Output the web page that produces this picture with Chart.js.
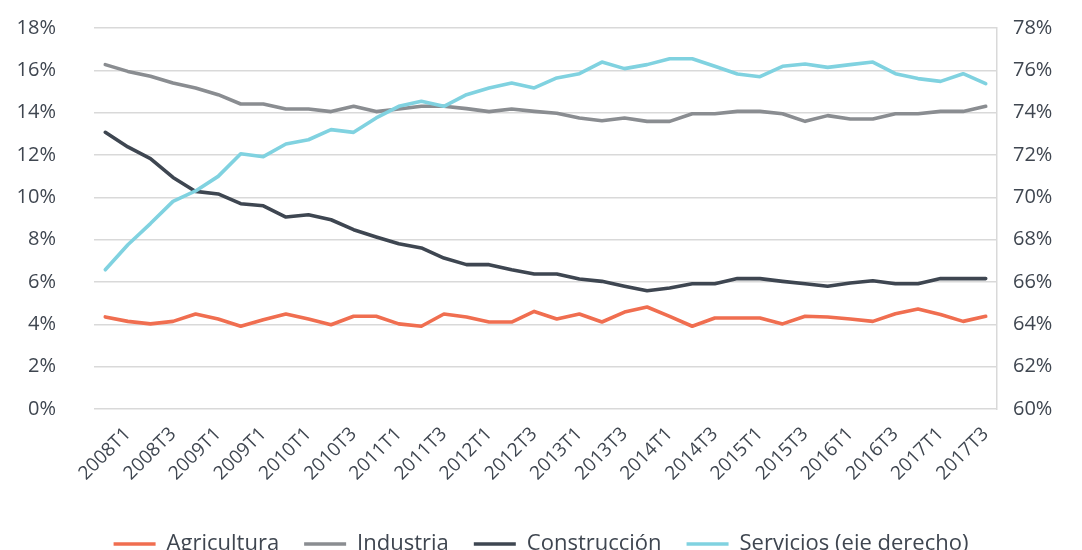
<!DOCTYPE html>
<html>
<head>
<meta charset="utf-8">
<script src="https://cdn.jsdelivr.net/npm/chart.js@4.4.1/dist/chart.umd.min.js"></script>
<style>
  html, body { margin: 0; padding: 0; background: #fff; overflow: hidden; }
  canvas { display: block; margin-top: -22px; }
</style>
</head>
<body>
<canvas id="chart" width="1082" height="587"></canvas>
<script>
// quarters 2007T4 .. 2017T3 (labels as printed in the source, incl. its "2009T1" twice)
const quarters = [
  '2007T4', '2008T1', '2008T2', '2008T3', '2008T4', '2009T1', '2009T2', '2009T1',
  '2009T4', '2010T1', '2010T2', '2010T3', '2010T4', '2011T1', '2011T2', '2011T3',
  '2011T4', '2012T1', '2012T2', '2012T3', '2012T4', '2013T1', '2013T2', '2013T3',
  '2013T4', '2014T1', '2014T2', '2014T3', '2014T4', '2015T1', '2015T2', '2015T3',
  '2015T4', '2016T1', '2016T2', '2016T3', '2016T4', '2017T1', '2017T2', '2017T3'
];

const agricultura = [
  4.35, 4.14, 4.02, 4.14, 4.49, 4.25, 3.91, 4.22,
  4.49, 4.25, 3.98, 4.38, 4.38, 4.02, 3.91, 4.49,
  4.35, 4.11, 4.11, 4.61, 4.25, 4.49, 4.11, 4.58,
  4.82, 4.38, 3.91, 4.30, 4.30, 4.30, 4.02, 4.38,
  4.35, 4.25, 4.14, 4.50, 4.72, 4.46, 4.14, 4.38
];
const industria = [
  16.27, 15.95, 15.72, 15.40, 15.17, 14.85, 14.41, 14.41,
  14.17, 14.17, 14.05, 14.30, 14.05, 14.17, 14.30, 14.30,
  14.19, 14.05, 14.17, 14.06, 13.97, 13.75, 13.62, 13.75,
  13.59, 13.59, 13.95, 13.95, 14.06, 14.06, 13.95, 13.59,
  13.86, 13.70, 13.70, 13.95, 13.95, 14.06, 14.06, 14.30
];
const construccion = [
  13.07, 12.38, 11.83, 10.94, 10.28, 10.16, 9.70, 9.60,
  9.07, 9.18, 8.94, 8.47, 8.13, 7.81, 7.61, 7.13,
  6.82, 6.82, 6.58, 6.38, 6.38, 6.14, 6.03, 5.80,
  5.59, 5.72, 5.92, 5.92, 6.16, 6.16, 6.03, 5.92,
  5.80, 5.95, 6.06, 5.92, 5.92, 6.16, 6.16, 6.16
];
// right axis
const servicios = [
  66.58, 67.76, 68.76, 69.81, 70.30, 70.99, 72.06, 71.92,
  72.52, 72.72, 73.20, 73.07, 73.75, 74.30, 74.54, 74.30,
  74.85, 75.17, 75.40, 75.17, 75.64, 75.84, 76.39, 76.08,
  76.27, 76.55, 76.55, 76.19, 75.83, 75.70, 76.19, 76.30,
  76.14, 76.27, 76.39, 75.84, 75.61, 75.48, 75.84, 75.37
];

const leftTicks = [0, 18, 2];   // min, max, step
const rightTicks = [60, 78, 2];

const textColor = '#3f4650';
const gridColor = '#d9d9d9';
const font = 'Open Sans';

function line(label, data, color, axis, order) {
  return {
    label, data, yAxisID: axis, order,
    borderColor: color, backgroundColor: color,
    borderWidth: 3.6, borderCapStyle: 'round', borderJoinStyle: 'round',
    pointRadius: 0, tension: 0, fill: false
  };
}

new Chart(document.getElementById('chart'), {
  type: 'line',
  data: {
    labels: quarters,
    datasets: [
      line('Agricultura', agricultura, '#f06e50', 'y', 4),
      line('Industria', industria, '#8a8d91', 'y', 3),
      line('Construcción', construccion, '#3e4651', 'y', 2),
      line('Servicios (eje derecho)', servicios, '#80d2e0', 'y1', 1)
    ]
  },
  options: {
    responsive: false,
    animation: false,
    devicePixelRatio: 1,
    layout: { padding: { top: 4, left: 0, right: 0, bottom: 0 } },
    plugins: {
      tooltip: { enabled: false },
      legend: {
        position: 'bottom',
        labels: {
          color: textColor,
          font: { family: font, size: 22 },
          usePointStyle: true,
          pointStyle: 'line',
          pointStyleWidth: 42,
          boxHeight: 4,
          padding: 25,
          sort: (a, b) => a.datasetIndex - b.datasetIndex
        }
      }
    },
    scales: {
      x: {
        offset: true,
        grid: { display: false, drawTicks: false },
        border: { display: false },
        ticks: {
          autoSkip: false,
          minRotation: 45,
          maxRotation: 45,
          padding: 14,
          color: textColor,
          font: { family: font, size: 19 },
          callback: (v, i) => (i % 2 === 1 ? quarters[i] : '')
        },
        afterFit: s => { s.height = 99; }
      },
      y: {
        position: 'left',
        min: leftTicks[0], max: leftTicks[1],
        grid: { color: gridColor, lineWidth: 1.5, drawTicks: false },
        border: { display: false },
        ticks: {
          stepSize: leftTicks[2], padding: 38, color: textColor,
          font: { family: font, size: 20 },
          callback: v => v + '%'
        },
        afterFit: s => { s.width = 94; }
      },
      y1: {
        position: 'right',
        min: rightTicks[0], max: rightTicks[1],
        grid: { display: false, drawTicks: false },
        border: { display: true, color: gridColor, width: 1.5 },
        ticks: {
          stepSize: rightTicks[2], padding: 16, color: textColor,
          font: { family: font, size: 20 },
          callback: v => v + '%'
        },
        afterFit: s => { s.width = 85; }
      }
    }
  }
});
</script>
</body>
</html>
